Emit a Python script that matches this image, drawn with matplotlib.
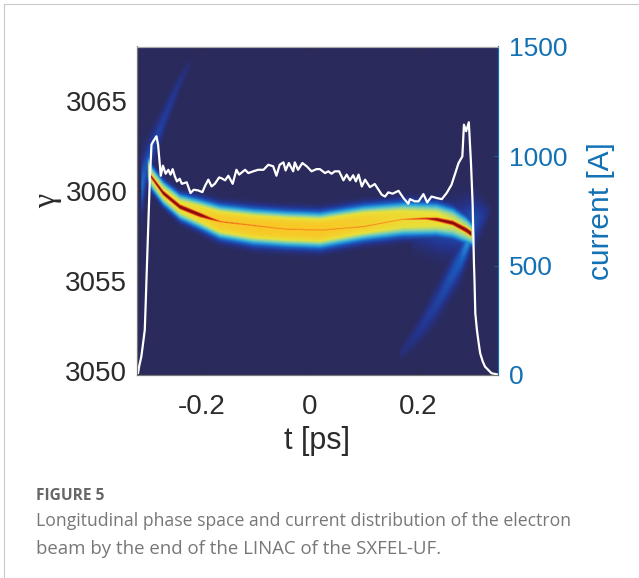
import matplotlib

matplotlib.use("Agg")
import matplotlib.pyplot as plt
import numpy as np
from matplotlib.colors import LinearSegmentedColormap
from matplotlib.lines import Line2D

# current trace
current_t = [-0.318, -0.316, -0.312, -0.309, -0.3056, -0.304, -0.3025, -0.2994, -0.2963, -0.2932, -0.290, -0.284, -0.281, -0.276,
             -0.272, -0.267, -0.262, -0.258, -0.254, -0.250, -0.246, -0.241, -0.237, -0.228, -0.221, -0.215,
             -0.207, -0.199, -0.194, -0.188, -0.182, -0.176, -0.168, -0.164, -0.157, -0.151, -0.143, -0.136,
             -0.131, -0.120, -0.114, -0.105, -0.096, -0.086, -0.077, -0.068, -0.062, -0.056, -0.049, -0.045,
             -0.039, -0.031, -0.028, -0.022, -0.014, -0.006, 0.003, 0.012, 0.0185, 0.028, 0.034, 0.040, 0.046,
             0.054, 0.062, 0.068, 0.074, 0.080, 0.085, 0.090, 0.096, 0.102, 0.111, 0.120, 0.133, 0.139, 0.145,
             0.153, 0.164, 0.173, 0.182, 0.185, 0.194, 0.201, 0.210, 0.217, 0.225, 0.235, 0.244, 0.253, 0.262,
             0.269, 0.275, 0.282, 0.285, 0.289, 0.294, 0.298, 0.301, 0.3035, 0.3045, 0.306, 0.309, 0.312, 0.315,
             0.320, 0.324, 0.336, 0.346]
current_a = [10, 40, 84, 140, 206, 320, 434, 663, 892, 1052, 1067, 1090, 1052, 910,
             956, 919, 937, 915, 940, 907, 884, 896, 873, 880, 831, 846,
             843, 835, 864, 892, 861, 873, 902, 899, 889, 910, 873, 937,
             915, 937, 922, 930, 937, 937, 960, 953, 910, 960, 971, 934,
             968, 930, 971, 937, 968, 953, 930, 940, 940, 922, 930, 919, 930,
             930, 889, 915, 889, 912, 884, 915, 861, 892, 858, 872, 823, 815, 834,
             828, 841, 808, 782, 803, 793, 793, 826, 788, 815, 808, 803, 831, 869,
             922, 968, 998, 1143, 1113, 1154, 968, 785, 511, 434, 282, 206, 150, 99,
             60, 38, 8, 3]

# density ridges of the phase space: time, centre, half width, colour level
band_t = [-0.300, -0.293, -0.272, -0.241, -0.204, -0.167, -0.105, -0.043, 0.019, 0.099, 0.173, 0.235, 0.265, 0.290, 0.299, 0.305]
band_gamma = [3061.2, 3060.7, 3059.87, 3059.1, 3058.7, 3058.27, 3058.0, 3057.87, 3057.8, 3058.2, 3058.42, 3058.4, 3058.2, 3057.8, 3057.6, 3057.4]
band_width = [0.7, 0.68, 0.68, 0.72, 0.82, 0.92, 0.98, 0.98, 0.98, 0.96, 0.94, 0.9, 0.85, 0.75, 0.65, 0.55]
band_level = [0.5, 0.54, 0.56, 0.58, 0.62, 0.67, 0.68, 0.68, 0.68, 0.65, 0.6, 0.58, 0.54, 0.52, 0.52, 0.32]

core_t = [-0.296, -0.272, -0.241, -0.204, -0.185, -0.165, -0.05, 0.02, 0.10, 0.17, 0.215, 0.235, 0.265, 0.290, 0.299]
core_gamma = [3060.85, 3059.87, 3059.1, 3058.65, 3058.45, 3058.27, 3057.87, 3057.8, 3058.0, 3058.4, 3058.45, 3058.4, 3058.2, 3057.8, 3057.6]
core_width = [0.2, 0.24, 0.25, 0.24, 0.17, 0.1, 0.07, 0.07, 0.07, 0.08, 0.13, 0.2, 0.24, 0.27, 0.28]
core_level = [0.95, 1.0, 1.0, 1.0, 0.92, 0.82, 0.8, 0.8, 0.8, 0.78, 0.88, 0.98, 1.0, 1.0, 1.0]

upper_plume_t = [-0.312, -0.302, -0.285, -0.262, -0.242, -0.222]
upper_plume_gamma = [3060.2, 3061.5, 3062.9, 3064.6, 3066.0, 3067.1]
upper_plume_width = [1.3, 1.0, 0.8, 0.6, 0.45, 0.25]
upper_plume_level = [0.24, 0.17, 0.13, 0.1, 0.07, 0.03]

lower_plume_t = [0.167, 0.198, 0.235, 0.278, 0.293, 0.302]
lower_plume_gamma = [3050.9, 3052.0, 3053.7, 3056.1, 3057.2, 3057.9]
lower_plume_width = [0.3, 0.55, 0.8, 0.9, 0.8, 0.6]
lower_plume_level = [0.04, 0.08, 0.12, 0.2, 0.3, 0.38]

halo_t = [0.19, 0.24, 0.28, 0.30, 0.32, 0.335]
halo_gamma = [3057.9, 3057.85, 3057.9, 3058.2, 3058.6, 3058.9]
halo_width = [0.9, 1.2, 1.3, 1.2, 0.8, 0.3]
halo_level = [0.1, 0.14, 0.16, 0.18, 0.1, 0.03]

x_ticks = [-0.2, 0, 0.2]
x_labels = ["-0.2", "0", "0.2"]
left_ticks = [3050, 3055, 3060, 3065]
right_ticks = [0, 500, 1000, 1500]

BACKGROUND = "#2a2a5c"
BLUE_TEXT = "#1271b5"
GRAY_TEXT = "#2b2b2b"

density_cmap = LinearSegmentedColormap.from_list(
    "beam",
    [
        (0.00, BACKGROUND),
        (0.08, "#24348f"),
        (0.20, "#1a5cc0"),
        (0.33, "#2aa5dc"),
        (0.45, "#7fd0b0"),
        (0.56, "#e8e23a"),
        (0.70, "#fbc423"),
        (0.82, "#ef4a1c"),
        (0.92, "#b01212"),
        (1.00, "#7a0b0b"),
    ],
)


def ridge(tt, gg, knots_t, knots_gamma, knots_width, knots_level, power):
    # one ridge of the density image, zero outside its own time range
    center = np.interp(tt, knots_t, knots_gamma)
    width = np.interp(tt, knots_t, knots_width)
    level = np.interp(tt, knots_t, knots_level)
    inside = (tt >= knots_t[0]) & (tt <= knots_t[-1])
    return inside * level * np.exp(-np.abs((gg - center) / width) ** power)


t_grid = np.linspace(-0.32, 0.348, 500)
gamma_grid = np.linspace(3049.75, 3068.04, 500)
tt, gg = np.meshgrid(t_grid, gamma_grid)

density = np.maximum.reduce(
    [
        ridge(tt, gg, band_t, band_gamma, band_width, band_level, 3.4),
        ridge(tt, gg, core_t, core_gamma, core_width, core_level, 2),
        ridge(tt, gg, upper_plume_t, upper_plume_gamma, upper_plume_width, upper_plume_level, 2),
        ridge(tt, gg, lower_plume_t, lower_plume_gamma, lower_plume_width, lower_plume_level, 2),
        ridge(tt, gg, halo_t, halo_gamma, halo_width, halo_level, 2),
    ]
)

plt.rcParams["font.family"] = ["Liberation Sans", "DejaVu Sans"]

fig = plt.figure(figsize=(6.39, 5.78), dpi=100)
ax = fig.add_axes([137 / 639, 1 - 375 / 578, (498 - 137) / 639, (375 - 46.5) / 578])
ax.imshow(
    density,
    extent=[t_grid[0], t_grid[-1], gamma_grid[0], gamma_grid[-1]],
    origin="lower",
    aspect="auto",
    cmap=density_cmap,
    vmin=0,
    vmax=1,
    interpolation="bilinear",
)
ax.set_xticks(x_ticks, x_labels)
ax.set_yticks(left_ticks)
ax.tick_params(axis="y", direction="in", length=3, width=0.6, labelsize=20, colors=GRAY_TEXT, pad=7)
ax.tick_params(axis="x", direction="in", length=3, width=0.6, labelsize=20, colors=GRAY_TEXT, top=True, pad=14)
ax.set_xlabel("t [ps]", fontsize=22, color=GRAY_TEXT, labelpad=4)
ax.set_ylabel("γ", fontsize=23, color=GRAY_TEXT, labelpad=2, y=0.53, family=["Liberation Serif", "DejaVu Serif"])

right = ax.twinx()
right.plot(current_t, current_a, color="white", lw=1.6)
right.set_ylim(0, 1500)
right.set_yticks(right_ticks)
right.tick_params(axis="y", direction="in", length=3, width=0.6, labelsize=19, colors=BLUE_TEXT, pad=8)
right.set_ylabel("current [A]", fontsize=21.5, color=BLUE_TEXT, labelpad=14)
right.set_xlim(t_grid[0], t_grid[-1])

for axis in (ax, right):
    axis.spines["left"].set_color("#777777")
    axis.spines["bottom"].set_color("#777777")
    axis.spines["top"].set_color("#aaaaaa")
    axis.spines["right"].set_color(BLUE_TEXT)
    for spine in axis.spines.values():
        spine.set_linewidth(0.8)

# page rules around the figure
fig.add_artist(Line2D([4 / 639, 1], [1 - 4 / 578, 1 - 4 / 578], color="#c9c9c9", lw=0.8))
fig.add_artist(Line2D([4 / 639, 4 / 639], [0, 1 - 4 / 578], color="#c9c9c9", lw=0.8))

fig.text(36 / 639, 1 - 496 / 578, "FIGURE 5", fontsize=11.2, fontweight="bold", color="#666666",
         family=["Open Sans", "DejaVu Sans"], va="center")
fig.text(36 / 639, 1 - 521 / 578, "Longitudinal phase space and current distribution of the electron", fontsize=12.7,
         color="#777777", family=["Open Sans", "DejaVu Sans"], va="center")
fig.text(36 / 639, 1 - 549 / 578, "beam by the end of the LINAC of the SXFEL-UF.", fontsize=13.4,
         color="#777777", family=["Open Sans", "DejaVu Sans"], va="center")

fig.savefig("out.png", dpi=100)
